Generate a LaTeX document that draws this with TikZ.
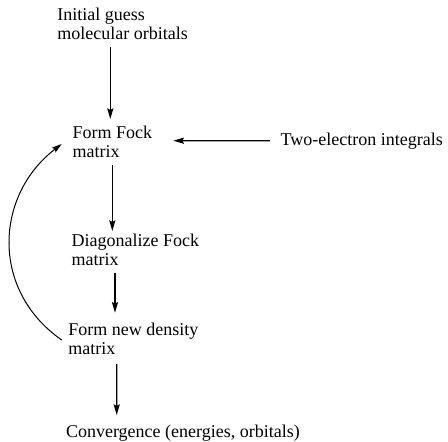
\documentclass[tikz,border=0pt]{standalone}
\usepackage{fontspec}
\setmainfont{Liberation Serif}
\usetikzlibrary{arrows.meta,calc}
\begin{document}
\begin{tikzpicture}[x=0.75pt,y=-0.75pt,
  lbl/.style={anchor=base west,inner sep=0pt,outer sep=0pt,align=left,
    font=\fontsize{13.5pt}{14.4pt}\selectfont},
  arr/.style={line width=0.9pt,-{Stealth[length=8pt,width=4.6pt,inset=1.2pt]}},
  carr/.style={line width=0.75pt,-{Stealth[length=7.5pt,width=4.4pt,inset=1.2pt]}}]
\useasboundingbox (0,0) rectangle (448,441);
% base west of a two-line node = baseline of its last line
\node[lbl] (init) at (57.3,39.3) {Initial guess\\molecular orbitals};
\node[lbl] (fock) at (72.7,157.7) {Form Fock\\matrix};
\node[lbl] (two)  at (280.7,146) {Two-electron integrals};
\node[lbl] (diag) at (71.7,265.7) {Diagonalize Fock\\matrix};
\node[lbl] (dens) at (68.3,354.3) {Form new density\\matrix};
\node[lbl] (conv) at (66,437.3) {Convergence (energies, orbitals)};
\draw[arr] ($(init.base west)+(53,7.4)$) -- ($(fock.base west)+(37.6,-38.7)$);
\draw[arr] ($(fock.base west)+(39.6,7.3)$) -- ($(diag.base west)+(40.6,-34.7)$);
\draw[arr] ($(diag.base west)+(43.3,7.6)$) -- ($(dens.base west)+(46.7,-41.6)$);
\draw[arr] ($(dens.base west)+(48.4,9.7)$) -- ($(conv.base west)+(50.7,-22.3)$);
\draw[arr] ($(two.base west)+(-10.7,-5.3)$) -- ($(fock.base west)+(100.6,-17)$);
\draw[carr] ($(dens.base west)+(-6.6,-14.3)$) .. controls +(-71.7,-50) and +(-66.7,51) .. ($(fock.base west)+(-11,-13.7)$);
\end{tikzpicture}
\end{document}
